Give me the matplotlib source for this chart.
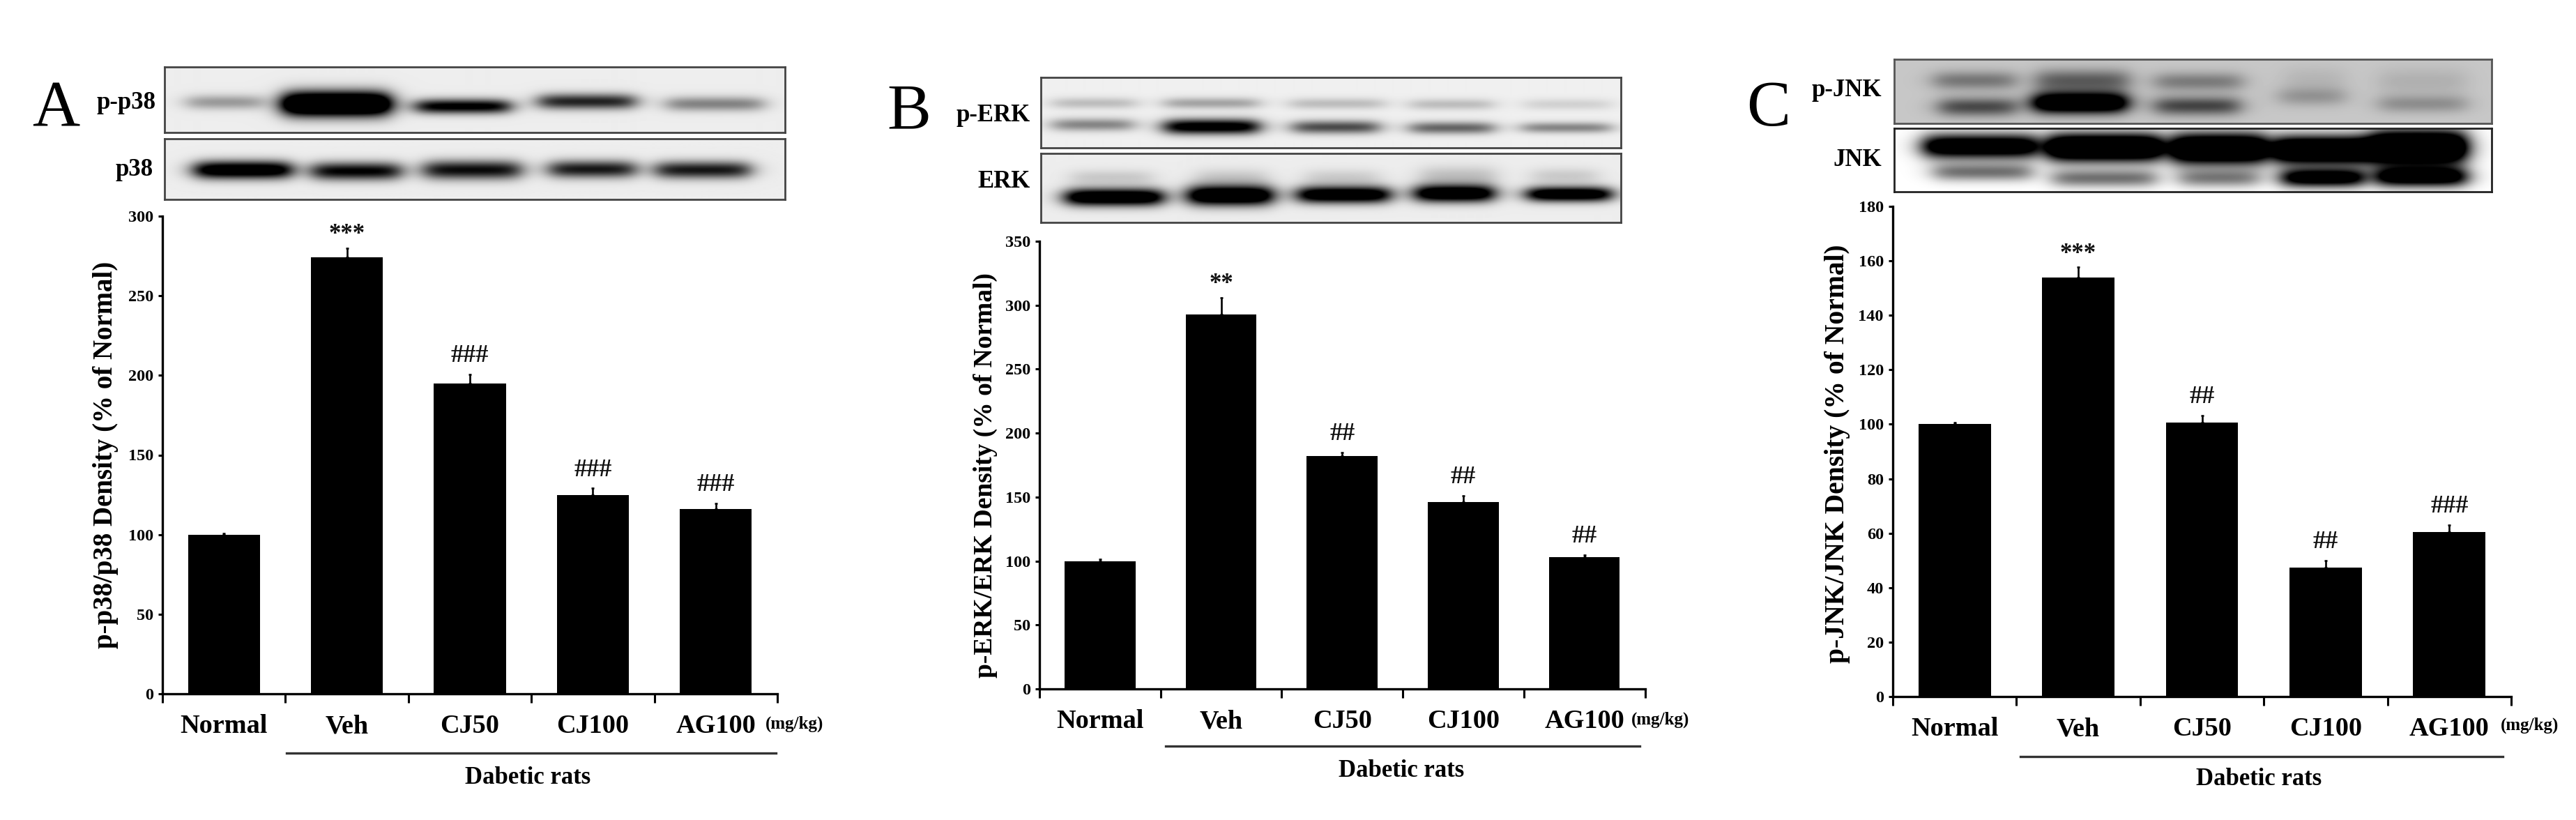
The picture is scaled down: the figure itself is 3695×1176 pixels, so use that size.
import numpy as np
import matplotlib
matplotlib.use('Agg')
import matplotlib.pyplot as plt

W, H = 3695, 1176
DPI = 100
SERIF = ['Liberation Serif', 'DejaVu Serif']
plt.rcParams['font.family'] = SERIF

categories = ['Normal', 'Veh', 'CJ50', 'CJ100', 'AG100']

values_a = [100, 274, 195, 125, 116]
errors_a = [0.8, 6, 5.5, 4, 3.6]
marks_a = ['', '***', '###', '###', '###']
ticks_a = [0, 50, 100, 150, 200, 250, 300]

values_b = [100, 293, 182, 146, 103]
errors_b = [1.2, 13, 3, 5, 1.7]
marks_b = ['', '**', '##', '##', '##']
ticks_b = [0, 50, 100, 150, 200, 250, 300, 350]

values_c = [100, 154, 100.6, 47.4, 60.4]
errors_c = [0.5, 3.6, 2.6, 2.5, 2.6]
marks_c = ['', '***', '##', '##', '###']
ticks_c = [0, 20, 40, 60, 80, 100, 120, 140, 160, 180]

# Western-blot band densities: (left, right, centre, thickness, darkness)
bands_a1 = [(350, 490, 243, 30, .33), (530, 730, 250, 50, 1.7), (780, 955, 260, 30, 1.0),
            (1010, 1190, 240, 32, .8), (1250, 1430, 250, 30, .42)]
bands_a2 = [(365, 545, 515, 36, 1.2), (585, 750, 520, 36, .95), (795, 975, 515, 38, .9),
            (1030, 1190, 512, 35, .85), (1230, 1405, 515, 35, .85)]
bands_b1 = [(340, 495, 163, 23, .2), (550, 725, 163, 23, .3), (785, 960, 165, 23, .2),
            (1010, 1165, 168, 23, .2), (1225, 1385, 168, 23, .12),
            (340, 490, 250, 26, .42), (550, 725, 258, 31, 1.1), (790, 950, 260, 27, .65),
            (1010, 1165, 263, 25, .55), (1220, 1385, 262, 22, .42)]
bands_b2 = [(375, 525, 460, 30, .14), (610, 740, 460, 35, .14), (815, 950, 460, 32, .13),
            (1030, 1170, 455, 40, .18), (1240, 1360, 455, 32, .14),
            (365, 545, 540, 35, 1.3), (595, 750, 533, 40, 1.4), (800, 970, 530, 34, 1.25),
            (1020, 1165, 525, 35, 1.3), (1230, 1385, 528, 30, 1.25)]
bands_c1 = [(380, 530, 155, 38, .32), (570, 740, 155, 45, .42), (790, 950, 160, 38, .3),
            (1030, 1140, 150, 50, .07), (1205, 1365, 160, 55, .09),
            (390, 530, 262, 38, .5), (565, 735, 245, 42, 1.3), (790, 945, 258, 38, .52),
            (1020, 1140, 220, 38, .2), (1205, 1365, 250, 36, .22)]
bands_c2 = [(360, 570, 420, 50, 1.4), (590, 800, 425, 56, 1.8), (820, 995, 430, 62, 1.8),
            (1010, 1190, 435, 56, 1.8), (1190, 1365, 425, 70, 1.9),
            (380, 560, 525, 36, .55), (600, 790, 550, 36, .55), (835, 980, 550, 36, .5),
            (1025, 1175, 548, 38, 1.3), (1200, 1365, 545, 40, 1.3)]

fig = plt.figure(figsize=(W / DPI, H / DPI), dpi=DPI, facecolor='white')


def fx(x):
    return x / W


def fy(y):
    return 1 - y / H


def blot(rect_px, rect_zoom, bands, bg, edge):
    x0, x1, y0, y1 = rect_px
    ax = fig.add_axes([fx(x0), fy(y1), fx(x1 - x0), (y1 - y0) / H])
    zx0, zx1, zy0, zy1 = rect_zoom
    X, Y = np.meshgrid(np.linspace(zx0, zx1, int(x1 - x0)), np.linspace(zy0, zy1, int(y1 - y0)))
    img = np.full(X.shape, float(bg))
    for a, b, c, t, d in bands:
        s = 24.0
        shape = 0.5 * (np.tanh((X - a) / s) - np.tanh((X - b) / s))
        shape = shape * np.exp(-(((Y - c) / t) ** 2))
        img = img - d * shape
    ax.imshow(np.clip(img, 0, 1), cmap='gray', vmin=0, vmax=1, aspect='auto', interpolation='bilinear')
    ax.set_xticks([])
    ax.set_yticks([])
    for s in ax.spines.values():
        s.set_linewidth(2.0)
        s.set_color(edge)


def panel(p):
    x0, x1, y0, y1 = p['axes']
    ax = fig.add_axes([fx(x0), fy(y0), fx(x1 - x0), (y0 - y1) / H])
    pos = np.arange(5) + 0.5
    ax.bar(pos, p['values'], width=0.585, color='black', zorder=3)
    ax.errorbar(pos, p['values'], yerr=[np.zeros(5), p['errors']], fmt='none',
                ecolor='black', elinewidth=1.9, capsize=1.4, capthick=1.9, zorder=2)
    for xp, v, e, m in zip(pos, p['values'], p['errors'], p['marks']):
        if m:
            star = m.startswith('*')
            ax.annotate(m, (xp, v + e), xytext=(0, 14 if star else 19), textcoords='offset points',
                        ha='center', va='center', fontsize=25 if star else 26,
                        fontweight='bold', color='#111111')
    ax.set_xlim(0, 5)
    ax.set_ylim(0, p['ticks'][-1])
    ax.set_yticks(p['ticks'])
    ax.tick_params(axis='y', length=4.5, width=2.2, pad=5, labelsize=17.5)
    for lab in ax.get_yticklabels():
        lab.set_fontweight('bold')
    ax.set_xticks(np.arange(6))
    ax.set_xticklabels([])
    ax.tick_params(axis='x', which='major', length=9, width=2.2)
    ax.set_xticks(pos, minor=True)
    ax.set_xticklabels(categories, minor=True, fontsize=27.5, fontweight='bold')
    ax.tick_params(axis='x', which='minor', length=0, pad=21)
    for sp in ('top', 'right'):
        ax.spines[sp].set_visible(False)
    for sp in ('left', 'bottom'):
        ax.spines[sp].set_linewidth(2.4)
    ax.patch.set_alpha(0)

    fig.text(fx(p['ylabel_x']), fy((p['ylabel_top'] + p['ylabel_bottom']) / 2), p['ylabel'],
             rotation=90, ha='center', va='center', fontsize=p['ylabel_fs'], fontweight='bold')
    fig.text(fx(p['unit'][0]), fy(p['unit'][1]), '(mg/kg)', ha='left', va='center',
             fontsize=18, fontweight='bold')
    fig.add_artist(plt.Line2D([fx(p['rule'][0]), fx(p['rule'][1])], [fy(p['rule'][2])] * 2,
                              color='#333333', lw=2.4))
    fig.text(fx(p['group'][0]), fy(p['group'][1]), 'Dabetic rats', ha='center', va='center',
             fontsize=25, fontweight='bold')
    fig.text(fx(p['letter'][0]), fy(p['letter'][1]), p['letter'][2], ha='left', va='baseline',
             fontsize=68)
    for txt, xr, yc in p['labels']:
        fig.text(fx(xr), fy(yc), txt, ha='right', va='center', fontsize=25, fontweight='bold')
    for args in p['blots']:
        blot(*args)


panel(dict(axes=(233, 1115, 995, 310), values=values_a, errors=errors_a, marks=marks_a, ticks=ticks_a,
           ylabel='p-p38/p38 Density (% of Normal)', ylabel_x=152, ylabel_top=372, ylabel_bottom=932, ylabel_fs=28,
           unit=(1098, 1038), rule=(411, 1113, 1080), group=(757, 1115), letter=(46, 180, 'A'),
           labels=[('p-p38', 223, 147), ('p38', 220, 244)],
           blots=[((236, 1126, 96, 190), (308, 1472, 100, 365), bands_a1, .93, '#444444'),
                  ((236, 1126, 199, 286), (308, 1472, 388, 632), bands_a2, .93, '#444444')]))

panel(dict(axes=(1491, 2359.5, 988, 346), values=values_b, errors=errors_b, marks=marks_b, ticks=ticks_b,
           ylabel='p-ERK/ERK Density (% of Normal)', ylabel_x=1413, ylabel_top=404, ylabel_bottom=960, ylabel_fs=27,
           unit=(2340, 1032), rule=(1672, 2352, 1070), group=(2010, 1105), letter=(1272, 184, 'B'),
           labels=[('p-ERK', 1478, 165), ('ERK', 1478, 261)],
           blots=[((1493, 2325, 111, 212), (318, 1405, 60, 342), bands_b1, .94, '#444444'),
                  ((1493, 2325, 220, 319), (318, 1405, 365, 640), bands_b2, .93, '#444444')]))

panel(dict(axes=(2715, 3602, 999, 296), values=values_c, errors=errors_c, marks=marks_c, ticks=ticks_c,
           ylabel='p-JNK/JNK Density (% of Normal)', ylabel_x=2635, ylabel_top=352, ylabel_bottom=950, ylabel_fs=28.5,
           unit=(3587, 1040), rule=(2898, 3590, 1085), group=(3240, 1117), letter=(2505, 180, 'C'),
           labels=[('p-JNK', 2699, 130), ('JNK', 2699, 230)],
           blots=[((2717, 3574, 85, 177), (306, 1412, 70, 327), bands_c1, .78, '#555555'),
                  ((2717, 3574, 184, 275), (306, 1412, 348, 603), bands_c2, 1.0, '#222222')]))

fig.savefig('out.png', dpi=DPI, facecolor='white')
